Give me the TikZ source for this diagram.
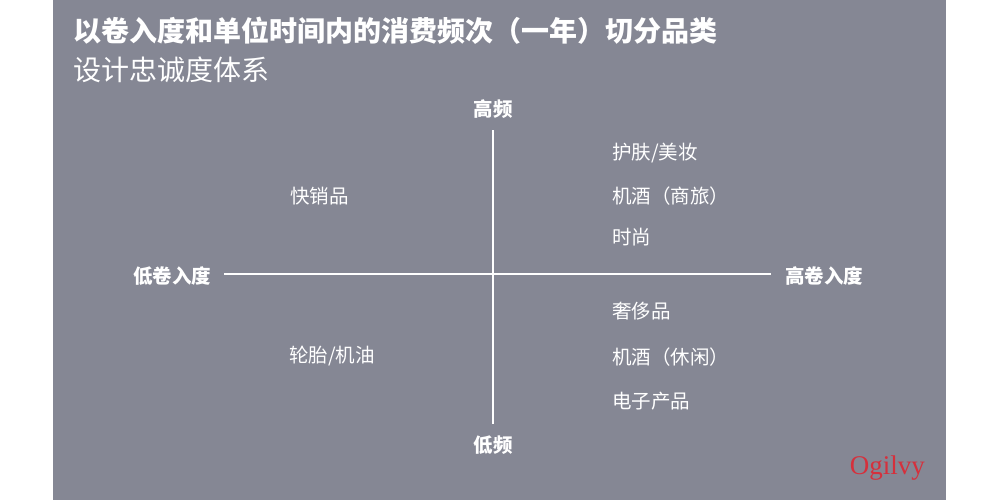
\documentclass[tikz,border=0pt]{standalone}
\usepackage{fontspec}
\setmainfont{Liberation Serif}
\newfontfamily\cjk{Noto Sans CJK SC}
\usetikzlibrary{positioning}
\definecolor{slidegrey}{RGB}{133,135,148}
\definecolor{ogilvyred}{RGB}{214,48,60}
\begin{document}
\begin{tikzpicture}[x=1pt,y=-1pt,every node/.style={inner sep=0pt,text=white},
axislabel/.style={font=\cjk\bfseries\fontsize{19.5}{22}\selectfont},
itemlabel/.style={font=\cjk\fontsize{19.5}{22}\selectfont,anchor=west},
axisline/.style={draw=white,line width=1.8pt}]
\useasboundingbox (0,0) rectangle (1000,500);
\fill[white] (0,0) rectangle (1000,500);
\fill[slidegrey] (53,0) rectangle (946,500);
\node[font=\cjk\bfseries\fontsize{28}{32}\selectfont,anchor=west] (title) at (73,31) {以卷入度和单位时间内的消费频次（一年）切分品类};
\node[font=\cjk\fontsize{28}{32}\selectfont,anchor=west] (subtitle) at (73,70) {设计忠诚度体系};
\node[axislabel] (high) at (493,109) {高频};
\node[axislabel] (low) at (493,445) {低频};
\node[axislabel] (lowinv) at (172,276) {低卷入度};
\node[axislabel] (highinv) at (824,276) {高卷入度};
\coordinate (top) at (493,130);
\coordinate (bottom) at (493,424);
\coordinate (left) at (224,274);
\coordinate (right) at (771,274);
\path[axisline] (top) edge (bottom) (left) edge (right);
\node[itemlabel] (fmcg) at (290,196) {快销品};
\node[itemlabel] (tyre) at (289,356) {轮胎/机油};
\node[itemlabel] (skin) at (612,153) {护肤/美妆};
\node[itemlabel] (wine1) at (612,196) {机酒（商旅）};
\node[itemlabel] (fashion) at (612,237) {时尚};
\node[itemlabel] (lux) at (612,311) {奢侈品};
\node[itemlabel] (wine2) at (612,357) {机酒（休闲）};
\node[itemlabel] (elec) at (612,401) {电子产品};
\node[font=\fontsize{27}{28}\selectfont,text=ogilvyred,anchor=east] (logo) at (925,468) {Ogilvy};
\end{tikzpicture}
\end{document}
